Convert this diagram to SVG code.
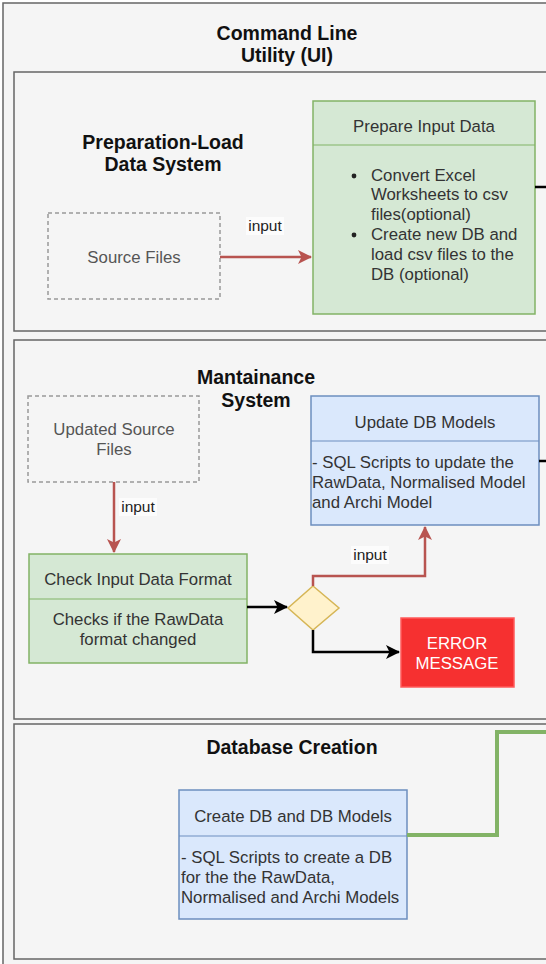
<svg xmlns="http://www.w3.org/2000/svg" width="546" height="964" viewBox="0 0 546 964">
  <defs>
    <style>
      .lane { fill: #f5f5f5; stroke: #666666; stroke-width: 1.5; }
      .title { font-family: "Liberation Sans", Arial, sans-serif; font-weight: bold; font-size: 19.5px; fill: #111111; text-anchor: middle; }
      .txt { font-family: "Liberation Sans", Arial, sans-serif; font-size: 16.8px; fill: #333333; }
      .mid { text-anchor: middle; }
      .ghost { fill: none; stroke: #999999; stroke-width: 1.5; stroke-dasharray: 4 3; }
      .green { fill: #d5e8d4; stroke: #82b366; stroke-width: 1.5; }
      .blue { fill: #dae8fc; stroke: #6c8ebf; stroke-width: 1.5; }
      .lbl { font-family: "Liberation Sans", Arial, sans-serif; font-size: 15.5px; fill: #222222; text-anchor: middle; }
      .lblbg { fill: #ffffff; opacity: 0.7; }
      .red { fill: none; stroke: #b85450; stroke-width: 2.5; }
      .blk { fill: none; stroke: #000000; stroke-width: 2.5; }
    </style>
    <marker id="redHead" viewBox="0 0 14 14" refX="13" refY="7" markerWidth="14" markerHeight="14" markerUnits="userSpaceOnUse" orient="auto">
      <path d="M0,0 L14,7 L0,14 L3.5,7 Z" fill="#b85450"/>
    </marker>
    <marker id="blkHead" viewBox="0 0 14 14" refX="13" refY="7" markerWidth="14" markerHeight="14" markerUnits="userSpaceOnUse" orient="auto">
      <path d="M0,0 L14,7 L0,14 L3.5,7 Z" fill="#000000"/>
    </marker>
  </defs>

  <rect width="546" height="964" fill="#ffffff"/>

  <!-- outer container -->
  <g id="cli">
    <rect class="lane" x="3" y="3" width="560" height="975"/>
    <text class="title" x="287" y="40">Command Line</text>
    <text class="title" x="287" y="62">Utility (UI)</text>
  </g>

  <!-- lanes -->
  <g id="lane-prep">
    <rect class="lane" x="14" y="72" width="550" height="259"/>
    <text class="title" x="163" y="149">Preparation-Load</text>
    <text class="title" x="163" y="171">Data System</text>
  </g>
  <g id="lane-maint">
    <rect class="lane" x="14" y="340" width="550" height="379"/>
    <text class="title" x="256" y="384">Mantainance</text>
    <text class="title" x="256" y="407">System</text>
  </g>
  <g id="lane-db">
    <rect class="lane" x="14" y="724" width="550" height="235"/>
    <text class="title" x="292" y="754">Database Creation</text>
  </g>

  <!-- nodes -->
  <g id="source-files">
    <rect class="ghost" x="48" y="213" width="172" height="86"/>
    <text class="txt mid" x="134" y="263" style="fill:#555555">Source Files</text>
  </g>

  <g id="prepare-input">
    <rect class="green" x="313" y="101" width="222" height="213"/>
    <line x1="313" y1="145" x2="535" y2="145" stroke="#82b366" stroke-width="1.2"/>
    <text class="txt mid" x="424" y="132">Prepare Input Data</text>
    <circle cx="354" cy="176" r="2.4" fill="#222"/>
    <circle cx="354" cy="235" r="2.4" fill="#222"/>
    <text class="txt" x="371" y="181">Convert Excel</text>
    <text class="txt" x="371" y="200">Worksheets to csv</text>
    <text class="txt" x="371" y="220">files(optional)</text>
    <text class="txt" x="371" y="240">Create new DB and</text>
    <text class="txt" x="371" y="260">load csv files to the</text>
    <text class="txt" x="371" y="280">DB (optional)</text>
  </g>

  <g id="updated-source">
    <rect class="ghost" x="28" y="396" width="171" height="86"/>
    <text class="txt mid" x="114" y="435" style="fill:#555555">Updated Source</text>
    <text class="txt mid" x="114" y="455" style="fill:#555555">Files</text>
  </g>

  <g id="update-db">
    <rect class="blue" x="311" y="396" width="228" height="129"/>
    <line x1="311" y1="441" x2="539" y2="441" stroke="#6c8ebf" stroke-width="1.2"/>
    <text class="txt mid" x="425" y="428">Update DB Models</text>
    <text class="txt" x="312" y="468">- SQL Scripts to update the</text>
    <text class="txt" x="312" y="488">RawData, Normalised Model</text>
    <text class="txt" x="312" y="508">and Archi Model</text>
  </g>

  <g id="check-format">
    <rect class="green" x="29" y="554" width="218" height="109"/>
    <line x1="29" y1="599" x2="247" y2="599" stroke="#82b366" stroke-width="1.2"/>
    <text class="txt mid" x="138" y="585">Check Input Data Format</text>
    <text class="txt mid" x="138" y="625">Checks if the RawData</text>
    <text class="txt mid" x="138" y="645">format changed</text>
  </g>

  <g id="decision">
    <polygon points="313,586 339,608 313,630 288,608" fill="#fff2cc" stroke="#d6b656" stroke-width="1.5"/>
  </g>

  <g id="error-message">
    <rect x="401" y="618" width="113" height="69" fill="#f63030" stroke="#ff5a5a" stroke-width="1.5"/>
    <text class="txt mid" x="457" y="649" style="fill:#ffffff">ERROR</text>
    <text class="txt mid" x="457" y="669" style="fill:#ffffff">MESSAGE</text>
  </g>

  <g id="create-db">
    <rect class="blue" x="179" y="790" width="228" height="129"/>
    <line x1="179" y1="836" x2="407" y2="836" stroke="#6c8ebf" stroke-width="1.2"/>
    <text class="txt mid" x="293" y="822">Create DB and DB Models</text>
    <text class="txt" x="181" y="863">- SQL Scripts to create a DB</text>
    <text class="txt" x="181" y="883">for the the RawData,</text>
    <text class="txt" x="181" y="903">Normalised and Archi Models</text>
  </g>

  <!-- connectors -->
  <g id="connectors">
    <path class="red" d="M220,257 L311,257" marker-end="url(#redHead)"/>
    <rect class="lblbg" x="246" y="217" width="38" height="18"/>
    <text class="lbl" x="265" y="231">input</text>

    <line class="blk" x1="535" y1="187" x2="546" y2="187"/>
    <line class="blk" x1="539" y1="461" x2="546" y2="461"/>

    <path class="red" d="M114,482 L114,552" marker-end="url(#redHead)"/>
    <rect class="lblbg" x="119" y="498" width="38" height="18"/>
    <text class="lbl" x="138" y="512">input</text>

    <path class="blk" d="M247,607 L287,607" marker-end="url(#blkHead)"/>

    <path class="red" d="M313,586 L313,576 L425,576 L425,527" marker-end="url(#redHead)"/>
    <rect class="lblbg" x="351" y="546" width="38" height="18"/>
    <text class="lbl" x="370" y="560">input</text>

    <path class="blk" d="M313,630 L313,652 L399,652" marker-end="url(#blkHead)"/>

    <path d="M407,835 L497,835 L497,732 L546,732" fill="none" stroke="#82b366" stroke-width="4"/>
  </g>
</svg>
